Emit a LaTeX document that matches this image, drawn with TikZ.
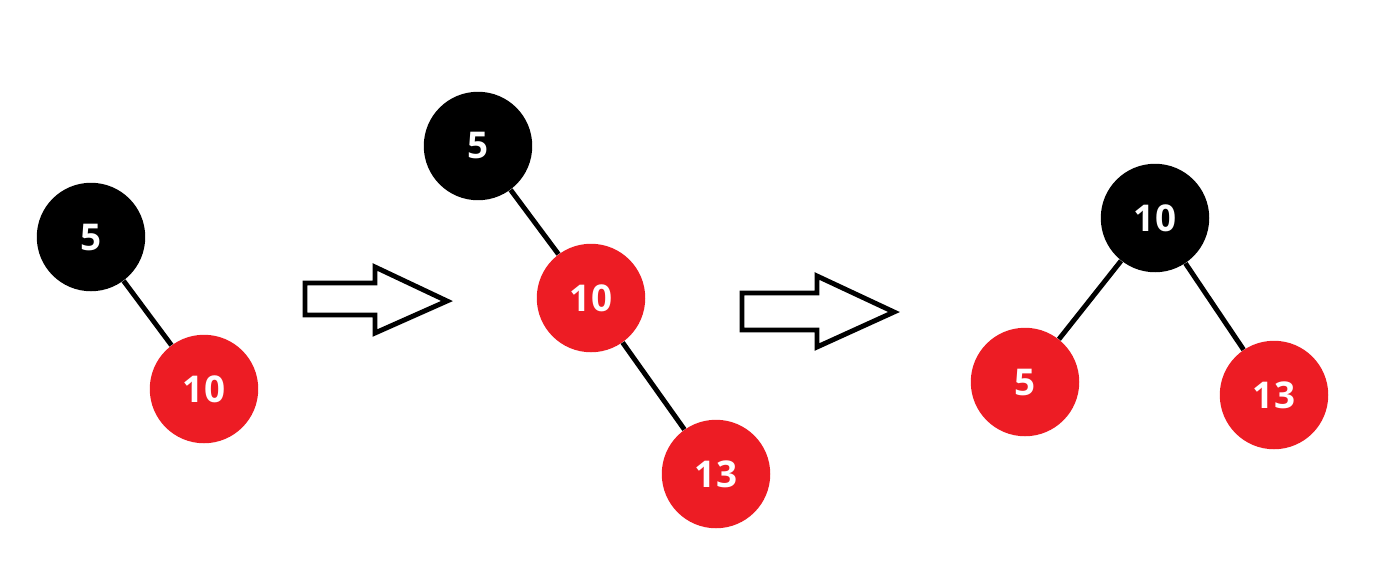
\documentclass[tikz,border=0pt]{standalone}
\usepackage{fontspec}
\setsansfont{Open Sans}
\usepackage{xcolor}
\usepackage{tikz}
\usetikzlibrary{positioning}
\definecolor{rbred}{RGB}{237,28,36}
\definecolor{rbblack}{RGB}{0,0,0}

\tikzset{
  rbnode/.style={circle, minimum size=2.17cm, inner sep=0pt, text=white,
    font=\sffamily\bfseries\fontsize{21}{21}\selectfont},
  blacknode/.style={rbnode, fill=rbblack},
  rednode/.style={rbnode, fill=rbred},
  treeedge/.style={line width=2.8pt, black},
  blockarrow/.style={line width=2.8pt, black, fill=white, line join=miter}
}

\begin{document}
\begin{tikzpicture}[x=0.02cm, y=-0.02cm]
  \useasboundingbox (0,0) rectangle (1395,576);

  % Tree 1
  \node[blacknode] (a5) at (91,237) {5};
  \node[rednode] (a10) at (204,389) {10};
  \draw[treeedge] (a5) -- (a10);

  % Arrow 1
  \draw[blockarrow] (305,283) -- (375,283) -- (375,267) -- (447,301)
    -- (375,333) -- (375,315) -- (305,315) -- cycle;

  % Tree 2
  \node[blacknode] (b5) at (478,146) {5};
  \node[rednode] (b10) at (591,298) {10};
  \node[rednode] (b13) at (716,474) {13};
  \draw[treeedge] (b5) -- (b10);
  \draw[treeedge] (b10) -- (b13);

  % Arrow 2
  \draw[blockarrow] (742,293) -- (817,293) -- (817,276) -- (894,312)
    -- (817,347) -- (817,330) -- (742,330) -- cycle;

  % Tree 3
  \node[blacknode] (c10) at (1155,218) {10};
  \node[rednode] (c5) at (1025,382) {5};
  \node[rednode] (c13) at (1274,395) {13};
  \draw[treeedge] (c10) -- (c5);
  \draw[treeedge] (c10) -- (c13);
\end{tikzpicture}
\end{document}
